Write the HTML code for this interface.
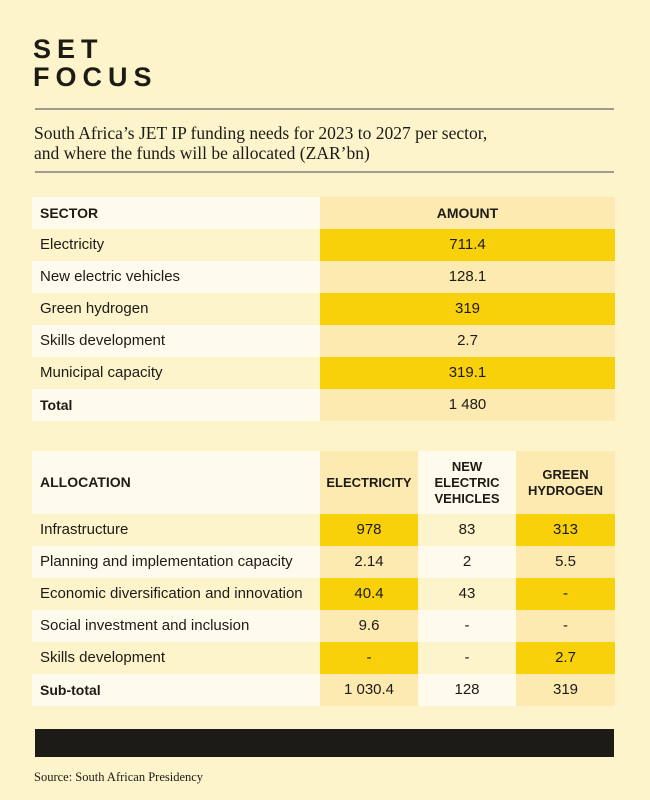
<!DOCTYPE html>
<html><head><style>
body{margin:0;width:650px;height:800px;background:#fdf4cc;position:relative;font-family:"Liberation Sans",sans-serif;color:#1d1b16;overflow:hidden}
.a{position:absolute}
.t{font-weight:900;font-size:27px;letter-spacing:6px;line-height:28px}
.hr{left:35px;width:579px;height:2px;background:#a09c90}
.sub{left:34px;top:123px;font-family:"Liberation Serif",serif;font-size:17.5px;line-height:20px}
.c{position:absolute;height:32px;line-height:32px;font-size:15px;box-sizing:border-box}
.l{padding-left:8px}
.m{text-align:center}
.cr{background:#fefbec}.bg{background:#fdf4cc}.am{background:#fdeab0}.ye{background:#f8d10a}
.b{font-weight:bold;font-size:14px}
.h{font-size:13px}
</style></head><body>
<div class="a t" style="left:33px;top:35px">SET</div>
<div class="a t" style="left:33px;top:63px">FOCUS</div>
<div class="a hr" style="top:108px"></div>
<div class="a sub">South Africa’s JET IP funding needs for 2023 to 2027 per sector,<br>and where the funds will be allocated (ZAR’bn)</div>
<div class="a hr" style="top:171px"></div>

<div class="c l cr b" style="left:32px;top:197px;width:288px">SECTOR</div>
<div class="c m am b" style="left:320px;top:197px;width:295px">AMOUNT</div>
<div class="c l bg" style="left:32px;top:229px;width:288px">Electricity</div>
<div class="c m ye" style="left:320px;top:229px;width:295px">711.4</div>
<div class="c l cr" style="left:32px;top:261px;width:288px">New electric vehicles</div>
<div class="c m am" style="left:320px;top:261px;width:295px">128.1</div>
<div class="c l bg" style="left:32px;top:293px;width:288px">Green hydrogen</div>
<div class="c m ye" style="left:320px;top:293px;width:295px">319</div>
<div class="c l cr" style="left:32px;top:325px;width:288px">Skills development</div>
<div class="c m am" style="left:320px;top:325px;width:295px">2.7</div>
<div class="c l bg" style="left:32px;top:357px;width:288px">Municipal capacity</div>
<div class="c m ye" style="left:320px;top:357px;width:295px">319.1</div>
<div class="c l cr b" style="left:32px;top:389px;width:288px">Total</div>
<div class="c m am" style="left:320px;top:389px;width:295px">1 480</div>

<div class="c l cr b" style="left:32px;top:451px;width:288px;height:63px;line-height:63px">ALLOCATION</div>
<div class="c m am b h" style="left:320px;top:451px;width:98px;height:63px;line-height:63px">ELECTRICITY</div>
<div class="c m cr b h" style="left:418px;top:451px;width:98px;height:63px;line-height:16px;padding-top:8px">NEW<br>ELECTRIC<br>VEHICLES</div>
<div class="c m am b h" style="left:516px;top:451px;width:99px;height:63px;line-height:16px;padding-top:16px">GREEN<br>HYDROGEN</div>

<div class="c l bg" style="left:32px;top:514px;width:288px">Infrastructure</div>
<div class="c m ye" style="left:320px;top:514px;width:98px">978</div>
<div class="c m bg" style="left:418px;top:514px;width:98px">83</div>
<div class="c m ye" style="left:516px;top:514px;width:99px">313</div>

<div class="c l cr" style="left:32px;top:546px;width:288px">Planning and implementation capacity</div>
<div class="c m am" style="left:320px;top:546px;width:98px">2.14</div>
<div class="c m cr" style="left:418px;top:546px;width:98px">2</div>
<div class="c m am" style="left:516px;top:546px;width:99px">5.5</div>

<div class="c l bg" style="left:32px;top:578px;width:288px">Economic diversification and innovation</div>
<div class="c m ye" style="left:320px;top:578px;width:98px">40.4</div>
<div class="c m bg" style="left:418px;top:578px;width:98px">43</div>
<div class="c m ye" style="left:516px;top:578px;width:99px">-</div>

<div class="c l cr" style="left:32px;top:610px;width:288px">Social investment and inclusion</div>
<div class="c m am" style="left:320px;top:610px;width:98px">9.6</div>
<div class="c m cr" style="left:418px;top:610px;width:98px">-</div>
<div class="c m am" style="left:516px;top:610px;width:99px">-</div>

<div class="c l bg" style="left:32px;top:642px;width:288px">Skills development</div>
<div class="c m ye" style="left:320px;top:642px;width:98px">-</div>
<div class="c m bg" style="left:418px;top:642px;width:98px">-</div>
<div class="c m ye" style="left:516px;top:642px;width:99px">2.7</div>

<div class="c l cr b" style="left:32px;top:674px;width:288px">Sub-total</div>
<div class="c m am" style="left:320px;top:674px;width:98px">1 030.4</div>
<div class="c m cr" style="left:418px;top:674px;width:98px">128</div>
<div class="c m am" style="left:516px;top:674px;width:99px">319</div>

<div class="a" style="left:35px;top:729px;width:579px;height:28px;background:#1d1b16"></div>
<div class="a" style="left:34px;top:770px;font-family:'Liberation Serif',serif;font-size:12.5px">Source: South African Presidency</div>
</body></html>
